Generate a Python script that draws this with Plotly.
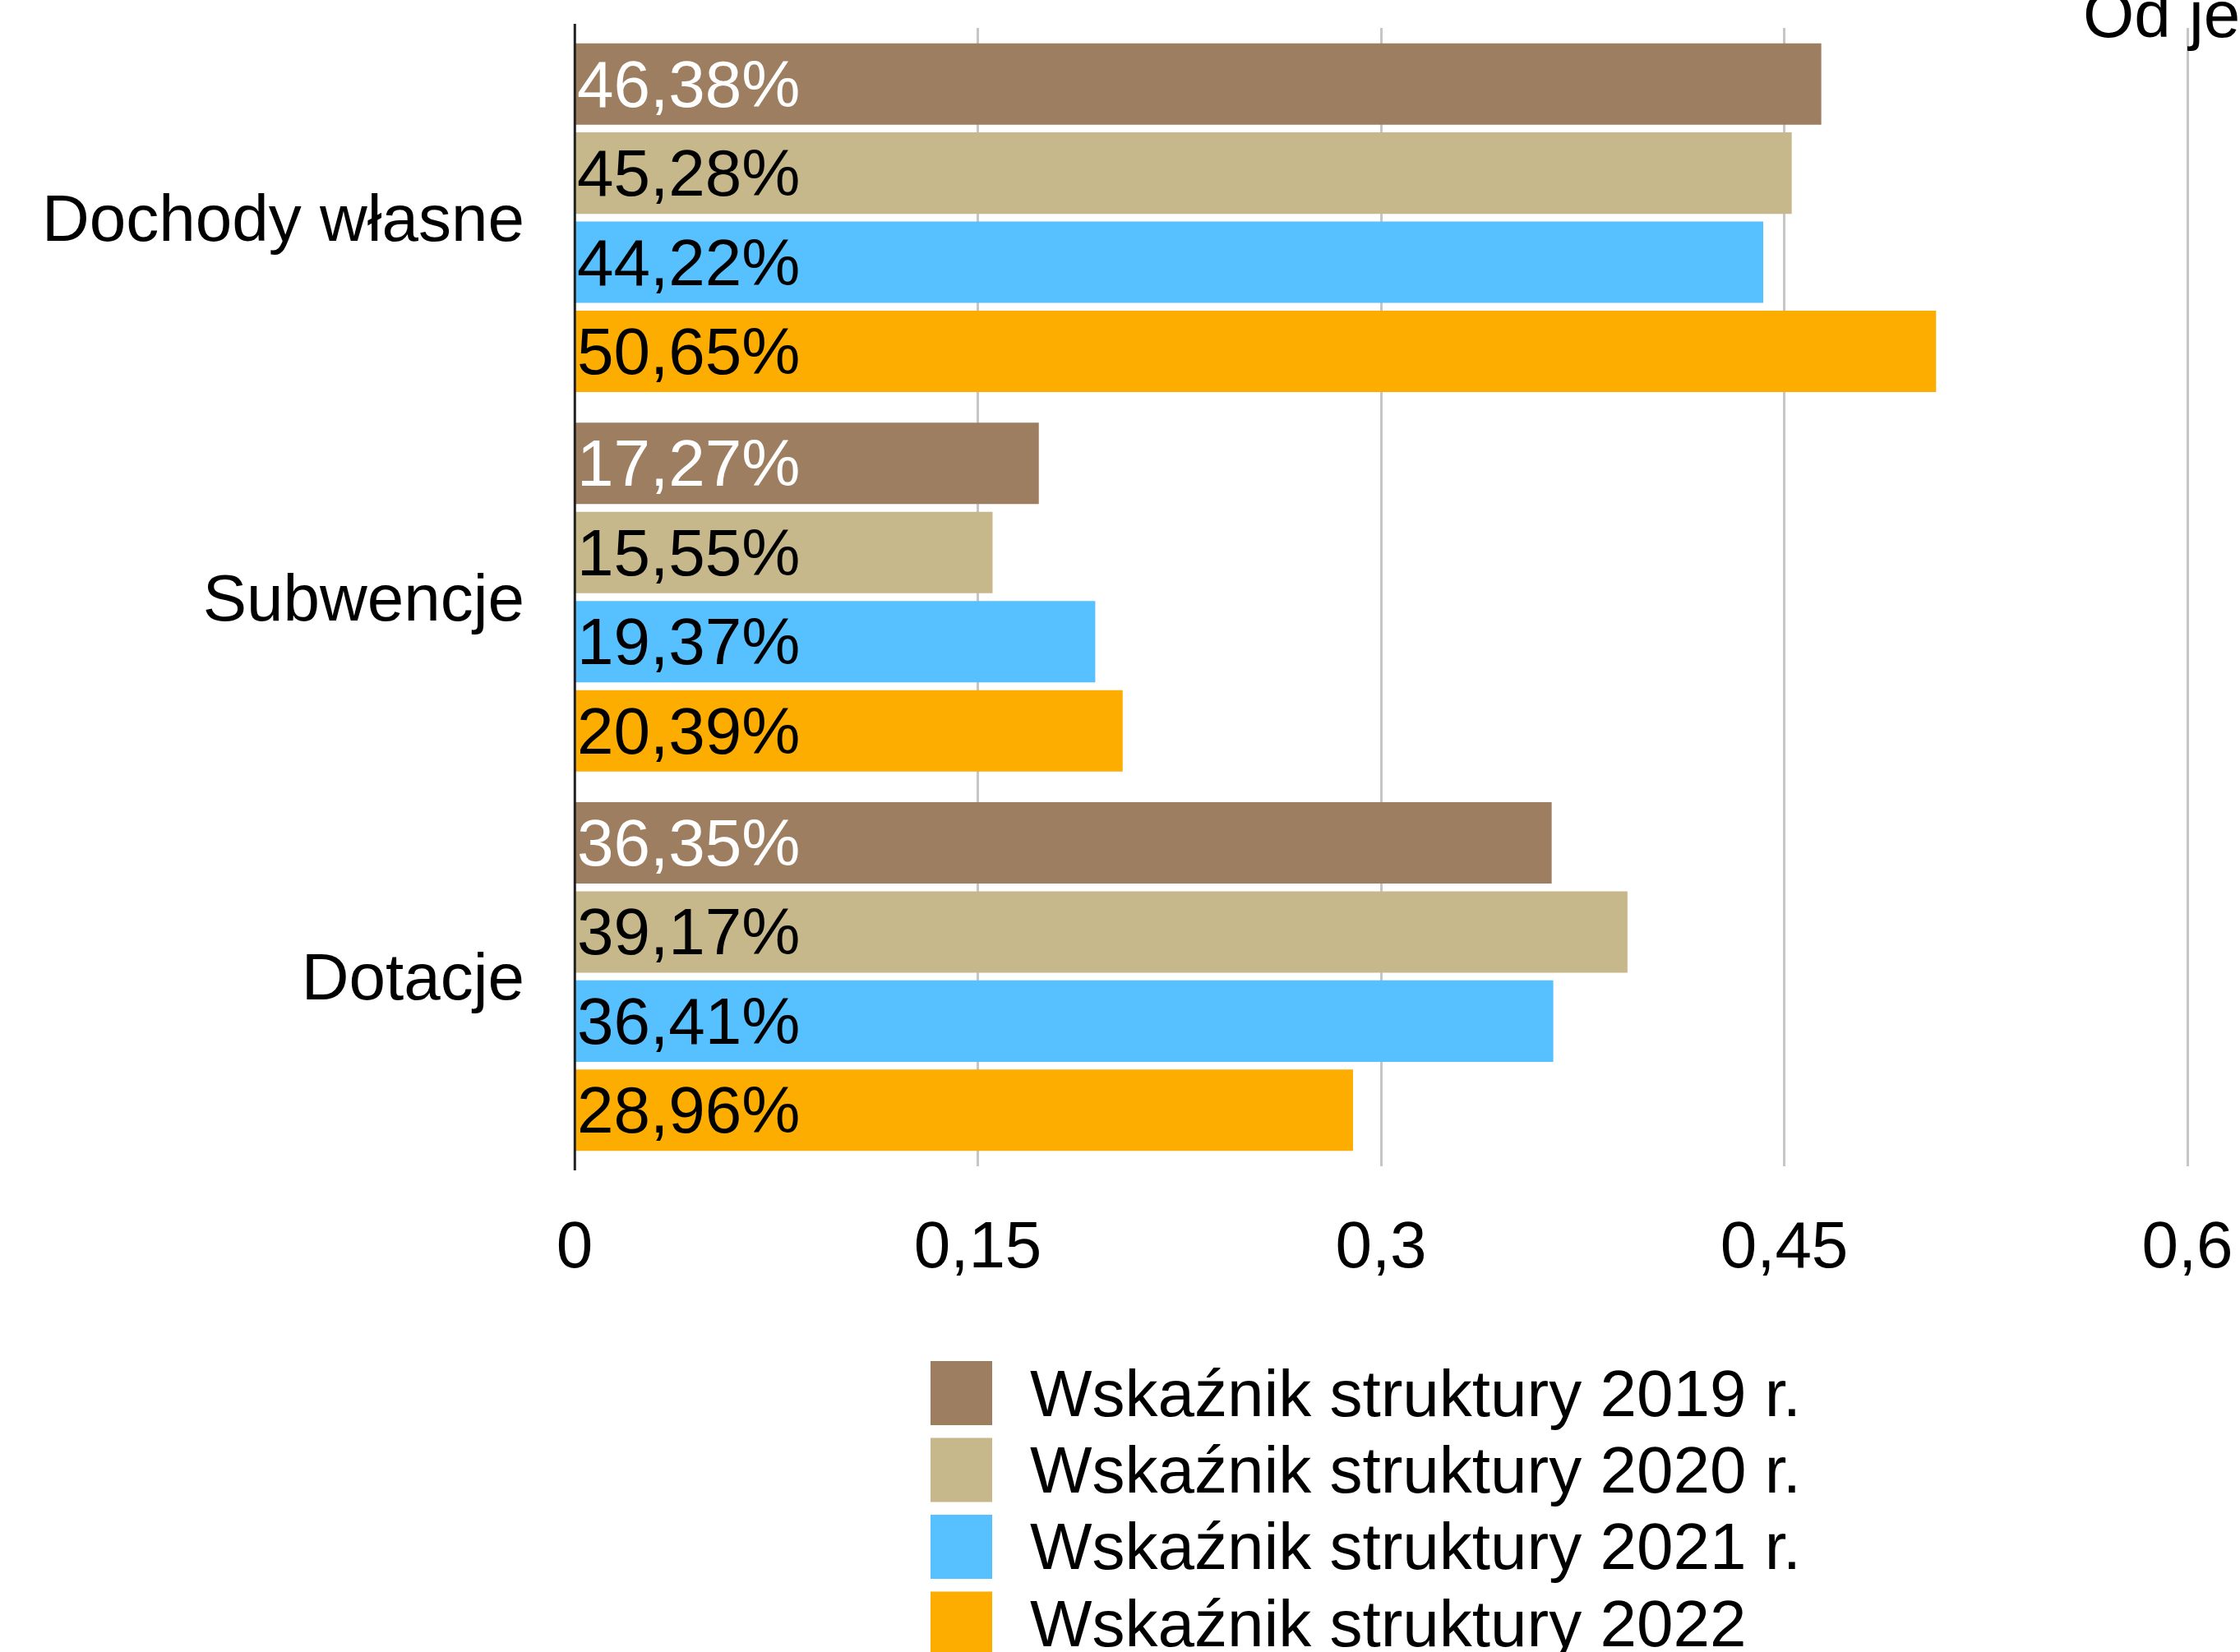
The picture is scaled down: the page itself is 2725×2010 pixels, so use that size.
import plotly.graph_objects as go

# ---- data ----
categories = ["Dochody własne", "Subwencje", "Dotacje"]
series_names = [
    "Wskaźnik struktury 2019 r.",
    "Wskaźnik struktury 2020 r.",
    "Wskaźnik struktury 2021 r.",
    "Wskaźnik struktury 2022",
]
values_2019 = [0.4638, 0.1727, 0.3635]
values_2020 = [0.4528, 0.1555, 0.3917]
values_2021 = [0.4422, 0.1937, 0.3641]
values_2022 = [0.5065, 0.2039, 0.2896]
x_tick_values = [0, 0.15, 0.3, 0.45, 0.6]
corner_text = "Od jednostek"

series_values = [values_2019, values_2020, values_2021, values_2022]

# ---- styles ----
W, H = 2725, 2010
ML, MR, MT, MB = 699, 0, 34, 591
PX_PER_UNIT = 3270.0
FONT = "Liberation Sans, Arial, Helvetica, sans-serif"
FS = 80
colors = ["#9E7E60", "#C7B88C", "#57C0FF", "#FDAD00"]
text_colors = ["#FFFFFF", "#000000", "#000000", "#000000"]

plot_w = W - ML - MR
plot_h = H - MT - MB


def px_to_paper_x(px):
    return (px - ML) / plot_w


def px_to_paper_y(py):
    return (H - MB - py) / plot_h


fig = go.Figure()
for name, vals, col, tcol in zip(series_names, series_values, colors, text_colors):
    fig.add_trace(go.Bar(
        y=categories,
        x=vals,
        name=name,
        orientation="h",
        marker=dict(color=col, line=dict(width=0)),
        texttemplate="%{x:.2%}",
        textposition="inside",
        insidetextanchor="start",
        constraintext="none",
        textfont=dict(family=FONT, size=FS, color=tcol),
        showlegend=False,
        hoverinfo="skip",
    ))

shapes = []
annotations = []

# vertical axis line at x = 0 (slightly longer than the plot area)
shapes.append(dict(
    type="line", xref="paper", yref="paper",
    x0=px_to_paper_x(699.3), x1=px_to_paper_x(699.3),
    y0=px_to_paper_y(1424), y1=px_to_paper_y(29),
    line=dict(color="#222222", width=3), layer="above",
))

# custom legend (large swatches)
leg_x0, leg_x1 = 1132, 1207
leg_top0, leg_pitch, leg_h = 1656, 93.5, 78
text_x = 1252
for i, (name, col) in enumerate(zip(series_names, colors)):
    top = leg_top0 + i * leg_pitch
    shapes.append(dict(
        type="rect", xref="paper", yref="paper",
        x0=px_to_paper_x(leg_x0), x1=px_to_paper_x(leg_x1),
        y0=px_to_paper_y(top + leg_h), y1=px_to_paper_y(top),
        fillcolor=col, line=dict(width=0), layer="above",
    ))
    annotations.append(dict(
        xref="paper", yref="paper",
        x=px_to_paper_x(text_x), y=px_to_paper_y(top + leg_h / 2),
        xanchor="left", yanchor="middle",
        text=name, showarrow=False,
        font=dict(family=FONT, size=FS, color="#000000"),
        borderpad=0,
    ))

annotations.append(dict(
    xref="paper", yref="paper",
    x=px_to_paper_x(2533), y=px_to_paper_y(17),
    xanchor="left", yanchor="middle",
    text=corner_text, showarrow=False,
    font=dict(family=FONT, size=FS, color="#000000"),
    borderpad=0,
))

fig.update_layout(
    width=W, height=H,
    margin=dict(l=ML, r=MR, t=MT, b=MB, pad=0, autoexpand=False),
    paper_bgcolor="white", plot_bgcolor="white",
    font=dict(family=FONT, size=FS, color="#000000"),
    barmode="group",
    bargap=0.0605,
    bargroupgap=0.0867,
    separators=", ",
    shapes=shapes,
    annotations=annotations,
    xaxis=dict(
        range=[0, plot_w / PX_PER_UNIT],
        tickmode="array",
        tickvals=x_tick_values,
        tickformat="~g",
        showgrid=True, gridcolor="#C6C6C6", gridwidth=3,
        zeroline=False,
        showline=False,
        ticks="",
        ticklabelstandoff=42,
        tickfont=dict(family=FONT, size=FS, color="#000000"),
        automargin=False,
        fixedrange=True,
    ),
    yaxis=dict(
        type="category",
        autorange="reversed",
        showgrid=False,
        zeroline=False,
        showline=False,
        ticks="",
        ticklabelstandoff=60,
        tickfont=dict(family=FONT, size=FS, color="#000000"),
        automargin=False,
        fixedrange=True,
    ),
)

fig.write_html(
    "out.html",
    config={"displayModeBar": False, "staticPlot": True},
    post_script="document.body.style.margin='0';document.body.style.overflow='hidden';",
)
